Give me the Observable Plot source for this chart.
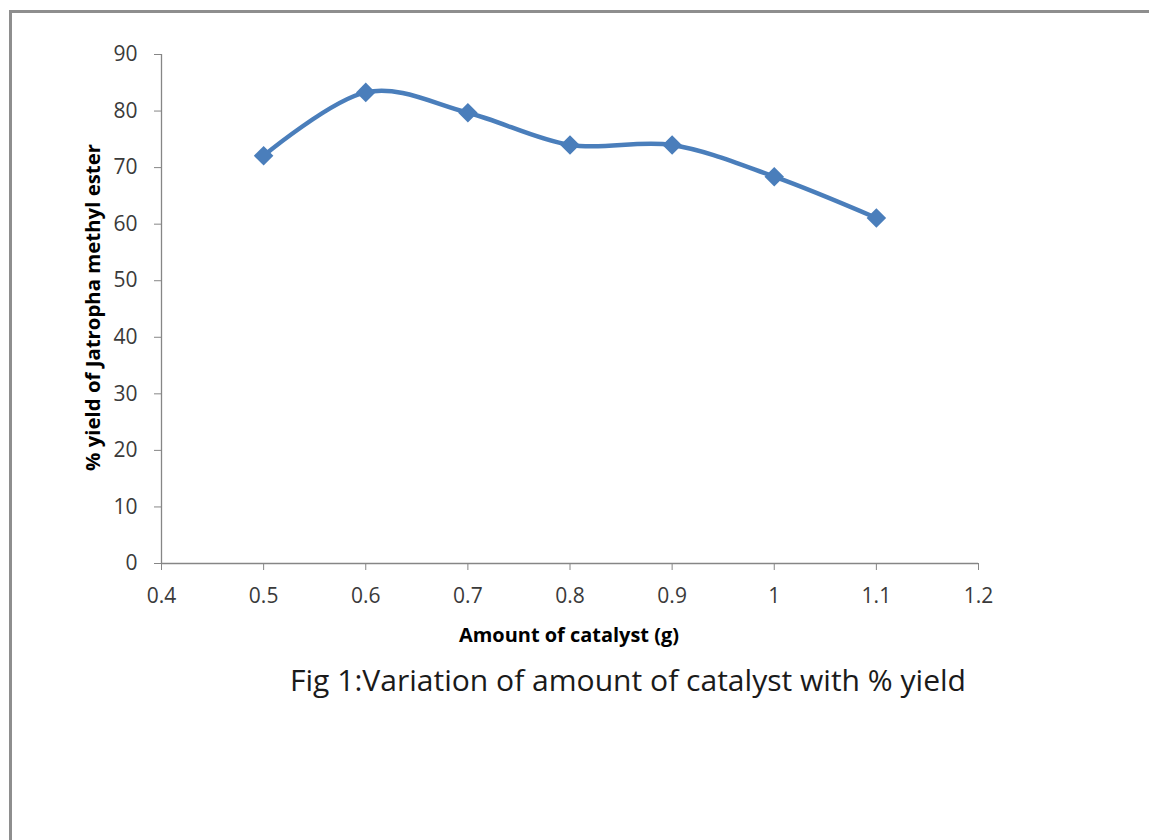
<!DOCTYPE html>
<html>
<head>
<meta charset="utf-8">
<script src="https://cdn.jsdelivr.net/npm/d3@7"></script>
<script src="https://cdn.jsdelivr.net/npm/@observablehq/plot@0.6"></script>
<style>
  html, body { margin: 0; padding: 0; background: #fff; overflow: hidden; }
  #wrap { position: relative; width: 1149px; height: 840px; }
  #frame { position: absolute; left: 9px; top: 10px; width: 1200px; height: 900px;
           border-left: 3px solid #8e8e8e; border-top: 3px solid #8e8e8e; }
  #chart { position: absolute; left: 0; top: 0; }
  #caption { position: absolute; left: 290px; top: 665px; font-family: "Open Sans", sans-serif;
             font-size: 30px; line-height: 30px; color: #1a1a1a; white-space: nowrap;
             transform-origin: 0 0; }
</style>
</head>
<body>
<div id="wrap">
  <div id="frame"></div>
  <div id="chart"></div>
  <div id="caption"><span id="captext">Fig 1:Variation of amount of catalyst with % yield</span></div>
</div>
<script>
// Data
const catalyst = [0.5, 0.6, 0.7, 0.8, 0.9, 1.0, 1.1];
const yieldPct = [72.1, 83.3, 79.7, 74.0, 74.0, 68.4, 61.1];
const xTicks = [0.4, 0.5, 0.6, 0.7, 0.8, 0.9, 1.0, 1.1, 1.2];
const yTicks = [0, 10, 20, 30, 40, 50, 60, 70, 80, 90];
const xTitle = "Amount of catalyst (g)";
const yTitle = "% yield of Jatropha methyl ester";

const data = catalyst.map((c, i) => ({catalyst: c, yield: yieldPct[i]}));
const blue = "#4a7ebb";
const axisGray = "#868686";

const chart = Plot.plot({
  width: 1149,
  height: 660,
  marginLeft: 161,
  marginRight: 171,
  marginTop: 54,
  marginBottom: 97,
  style: {fontFamily: "Open Sans, sans-serif", background: "transparent", overflow: "visible"},
  x: {domain: [0.4, 1.2]},
  y: {domain: [0, 90]},
  marks: [
    Plot.axisX({ticks: xTicks, tickSize: 7, tickPadding: 18, tickFormat: d => String(d),
                stroke: axisGray, fill: "#3a3a3a", fontSize: 21, label: null}),
    Plot.axisY({ticks: yTicks, tickSize: 7, tickPadding: 17, tickFormat: d => String(d),
                stroke: axisGray, fill: "#3a3a3a", fontSize: 21, label: null}),
    Plot.ruleY([0], {stroke: axisGray, strokeWidth: 1.3}),
    Plot.ruleX([0.4], {stroke: axisGray, strokeWidth: 1.3}),
    Plot.line(data, {x: "catalyst", y: "yield", stroke: blue, strokeWidth: 4.5, curve: "cardinal"}),
    Plot.dot(data, {x: "catalyst", y: "yield", symbol: "diamond2", r: 8.8, fill: blue, stroke: null}),
    Plot.text([yTitle], {frameAnchor: "left", dx: -68, dy: 162, rotate: -90, textAnchor: "start",
                         fontWeight: "bold", fontSize: 19, fill: "#000"}),
    Plot.text([xTitle], {frameAnchor: "bottom", dx: -111, dy: 78, textAnchor: "start",
                         fontWeight: "bold", fontSize: 19, fill: "#000"})
  ]
});
document.getElementById("chart").appendChild(chart);

// fit title widths to the reference
const targets = {[yTitle]: 327, [xTitle]: 220};
chart.querySelectorAll("text").forEach(t => {
  const w = targets[t.textContent];
  if (w) { t.setAttribute("textLength", w); t.setAttribute("lengthAdjust", "spacingAndGlyphs"); }
});

// fit caption width
const span = document.getElementById("captext");
const cw = span.getBoundingClientRect().width;
document.getElementById("caption").style.transform = `scaleX(${676 / cw})`;
</script>
</body>
</html>
